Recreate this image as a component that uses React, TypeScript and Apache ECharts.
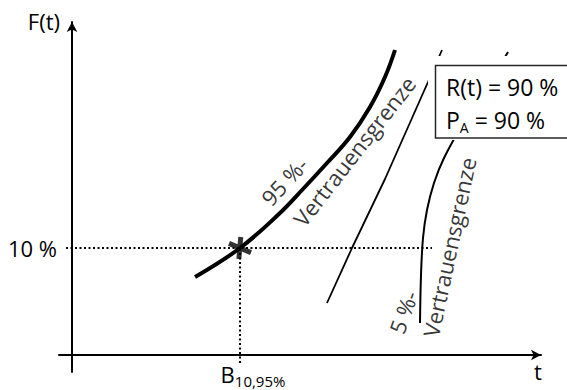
import React, { useEffect, useRef } from 'react';
import * as echarts from 'echarts';

// Schematic units: t and F(t) in arbitrary units (origin at the axes crossing)
const T_UPPER = [123, 168, 208, 231, 255, 278, 298, 313, 323];
const F_UPPER = [78, 107, 142, 166, 192, 218, 248, 278, 305];

const T_MID = [255, 280, 313, 356, 370];
const F_MID = [52, 107, 176, 273, 305];

const T_LOWER = [348, 349, 351, 355, 362, 372, 392, 416, 436];
const F_LOWER = [32, 80, 117, 145, 172, 197, 233, 270, 303];

const F_LEVEL = 107; // 10 %
const B_VALUE = 168; // B_10,95%
const LEVEL_LABEL = '10 %';
const B_MAIN = 'B';
const B_SUB = '10,95%';

const ANNOT_T = [212, 282, 331, 377];
const ANNOT_F = [174, 204, 43, 108];
const ANNOT_TEXT = ['95 %-', 'Vertrauensgrenze', '5 %-', 'Vertrauensgrenze'];
const ANNOT_ROT = [47, 52, 70, 78];

const BOX_LINE1 = 'R(t) = 90 %';
const BOX_LINE2_MAIN = 'P';
const BOX_LINE2_SUB = 'A';
const BOX_LINE2_REST = ' = 90 %';

const FONT = 'Open Sans';

export default function App() {
  const ref = useRef<HTMLDivElement>(null);
  useEffect(() => {
    if (!ref.current) return;
    const chart = echarts.init(ref.current, null, { renderer: 'svg' });
    const zip = (a: number[], b: number[]) => a.map((v, i) => [v, b[i]]);
    const option: any = {
      animation: false,
      backgroundColor: '#fff',
      textStyle: { fontFamily: FONT, color: '#000' },
      grid: { left: 59, right: 26, top: 22, bottom: 18, containLabel: false },
      xAxis: {
        type: 'value',
        min: -13,
        max: 469,
        axisLine: {
          onZero: true,
          symbol: ['none', 'arrow'],
          symbolSize: [8, 10],
          lineStyle: { color: '#000', width: 2 },
        },
        axisTick: { show: false },
        axisLabel: { show: false },
        splitLine: { show: false },
        name: 't',
        nameLocation: 'end',
        nameGap: -3,
        nameTextStyle: {
          fontFamily: FONT,
          fontSize: 22,
          color: '#000',
          align: 'center',
          verticalAlign: 'top',
          padding: [5, 0, 0, 0],
        },
      },
      yAxis: {
        type: 'value',
        min: -17,
        max: 333,
        axisLine: {
          onZero: true,
          symbol: ['none', 'arrow'],
          symbolSize: [8, 10],
          lineStyle: { color: '#000', width: 2 },
        },
        axisTick: { show: false },
        axisLabel: { show: false },
        splitLine: { show: false },
        name: 'F(t)',
        nameLocation: 'end',
        nameGap: 1,
        nameTextStyle: {
          fontFamily: FONT,
          fontSize: 22,
          color: '#000',
          align: 'right',
          verticalAlign: 'middle',
          padding: [0, 12, 0, 0],
        },
      },
      series: [
        {
          type: 'line',
          data: zip(T_UPPER, F_UPPER),
          smooth: 0.4,
          symbol: 'none',
          lineStyle: { color: '#000', width: 4 },
          z: 3,
          markLine: {
            silent: true,
            symbol: 'none',
            lineStyle: { color: '#000', width: 2, type: [2, 2.5] },
            data: [
              [
                {
                  coord: [-6, F_LEVEL],
                  label: {
                    show: true,
                    position: 'start',
                    distance: 9,
                    formatter: LEVEL_LABEL,
                    fontFamily: FONT,
                    fontSize: 22,
                    color: '#000',
                  },
                },
                { coord: [360, F_LEVEL] },
              ],
              [
                {
                  coord: [B_VALUE, -8],
                  label: {
                    show: true,
                    position: 'start',
                    distance: -4,
                    formatter: '{b|' + B_MAIN + '}{s|' + B_SUB + '}',
                    padding: [0, 0, 0, 26],
                    rich: {
                      b: { fontFamily: FONT, fontSize: 22, color: '#000' },
                      s: { fontFamily: FONT, fontSize: 15, color: '#000', padding: [14, 0, 0, 0] },
                    },
                  },
                },
                { coord: [B_VALUE, F_LEVEL] },
              ],
            ],
          },
        },
        {
          type: 'line',
          data: zip(T_MID, F_MID),
          smooth: false,
          symbol: 'none',
          lineStyle: { color: '#000', width: 1.8 },
        },
        {
          type: 'line',
          data: zip(T_LOWER, F_LOWER),
          smooth: 0.35,
          symbol: 'none',
          lineStyle: { color: '#000', width: 2 },
        },
        {
          type: 'scatter',
          data: [[B_VALUE, F_LEVEL]],
          symbol: 'path://M0,7L23,17M12.3,0L10.3,24',
          symbolSize: [22, 22],
          itemStyle: { color: 'rgba(0,0,0,0)', borderColor: '#000', borderWidth: 5 },
          z: 5,
        },
        {
          type: 'scatter',
          symbolSize: 1,
          itemStyle: { color: 'rgba(0,0,0,0)' },
          z: 4,
          data: ANNOT_T.map((t, i) => ({
            value: [t, ANNOT_F[i]],
            label: {
              show: true,
              position: 'inside',
              formatter: ANNOT_TEXT[i],
              rotate: ANNOT_ROT[i],
              fontFamily: FONT,
              fontSize: 22,
              color: '#000',
              align: 'center',
              verticalAlign: 'middle',
            },
          })),
        },
      ],
      graphic: [
        {
          type: 'rect',
          z: 100,
          shape: { x: 428, y: 56, width: 139, height: 84 },
          style: { fill: '#fff' },
        },
        {
          type: 'rect',
          z: 101,
          shape: { x: 435.5, y: 65.5, width: 140, height: 72.5 },
          style: { fill: '#fff', stroke: '#262626', lineWidth: 1.5 },
        },
        {
          type: 'text',
          z: 102,
          x: 446,
          y: 87,
          style: {
            text: BOX_LINE1,
            font: '23px "Open Sans"',
            fill: '#000',
            verticalAlign: 'middle',
          },
        },
        {
          type: 'text',
          z: 102,
          x: 446,
          y: 120,
          style: {
            text: '{p|' + BOX_LINE2_MAIN + '}{s|' + BOX_LINE2_SUB + '}{p|' + BOX_LINE2_REST + '}',
            verticalAlign: 'middle',
            fill: '#000',
            rich: {
              p: { fontFamily: FONT, fontSize: 23, fill: '#000' },
              s: { fontFamily: FONT, fontSize: 14, fill: '#000', padding: [14, 0, 0, 0] },
            },
          },
        },
      ],
    };
    chart.setOption(option);
    return () => chart.dispose();
  }, []);
  return (
    <div
      ref={ref}
      style={{ position: 'fixed', left: 0, top: 0, width: 567, height: 390 }}
    />
  );
}
